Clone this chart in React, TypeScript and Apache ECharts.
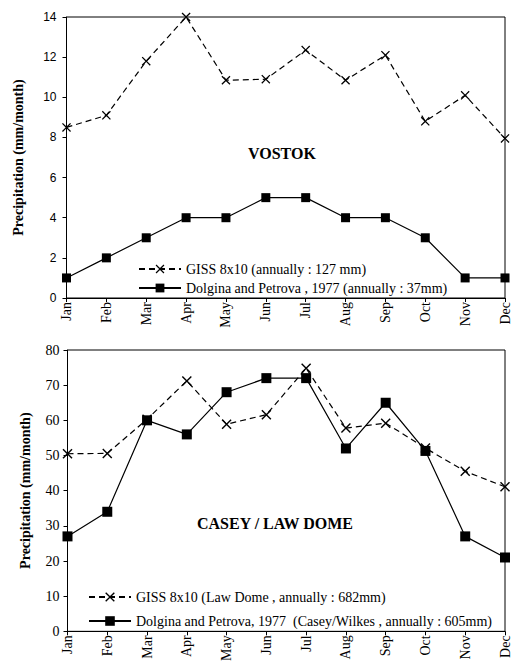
import React, { useEffect, useRef } from "react";
import * as echarts from "echarts";

const months = ["Jan", "Feb", "Mar", "Apr", "May", "Jun", "Jul", "Aug", "Sep", "Oct", "Nov", "Dec"];
const vostokGiss = [8.5, 9.1, 11.8, 14.0, 10.85, 10.9, 12.35, 10.85, 12.1, 8.8, 10.1, 7.95];
const vostokDolgina = [1, 2, 3, 4, 4, 5, 5, 4, 4, 3, 1, 1];
const caseyGiss = [50.5, 50.6, 60.3, 71.2, 58.9, 61.6, 74.8, 57.8, 59.2, 52.1, 45.5, 41.1];
const caseyDolgina = [27, 34, 60, 56, 68, 72, 72, 52, 65, 51.3, 27, 21];

const vostokGissName = "GISS 8x10 (annually : 127 mm)";
const vostokDolginaName = "Dolgina and Petrova , 1977 (annually : 37mm)";
const caseyGissName = "GISS 8x10 (Law Dome , annually : 682mm)";
const caseyDolginaName = "Dolgina and Petrova, 1977  (Casey/Wilkes , annually : 605mm)";

const yName = "Precipitation (mm/month)";
const serif = "Liberation Serif";
const sans = "Liberation Sans";

const crossPath = "path://M0,1L1,0L5,4L9,0L10,1L6,5L10,9L9,10L5,6L1,10L0,9L4,5Z";

export default function App() {
  const ref = useRef<HTMLDivElement>(null);
  useEffect(() => {
    if (!ref.current) return;
    const chart = echarts.init(ref.current, null, { renderer: "svg" });
    const xAxisBase = (gridIndex: number) => ({
      type: "category",
      gridIndex,
      data: months,
      boundaryGap: false,
      axisLine: { lineStyle: { color: "#000", width: 1 } },
      axisTick: { show: true, length: 4, lineStyle: { color: "#000" } },
      axisLabel: { rotate: 90, color: "#000", fontFamily: serif, fontSize: 14, margin: 4 },
      splitLine: { show: false },
    });
    const giss = (name: string, data: number[], idx: number, size: number) => ({
      name,
      type: "line",
      xAxisIndex: idx,
      yAxisIndex: idx,
      data,
      symbol: crossPath,
      symbolSize: size,
      lineStyle: { color: "#000", width: 1.2, type: [6, 4] },
      itemStyle: { color: "#000" },
      z: 3,
    });
    const dolg = (name: string, data: number[], idx: number, size: number) => ({
      name,
      type: "line",
      xAxisIndex: idx,
      yAxisIndex: idx,
      data,
      symbol: "rect",
      symbolSize: size,
      lineStyle: { color: "#000", width: 1.2, type: "solid" },
      itemStyle: { color: "#000" },
      z: 4,
    });
    chart.setOption({
      animation: false,
      backgroundColor: "#fff",
      grid: [
        { left: 66.5, right: 5.5, top: 17, height: 281, show: true, borderColor: "#000", borderWidth: 1 },
        { left: 67.5, right: 2.5, top: 350, height: 282.5, show: true, borderColor: "#000", borderWidth: 1 },
      ],
      xAxis: [xAxisBase(0), xAxisBase(1)],
      yAxis: [
        {
          type: "value",
          gridIndex: 0,
          min: 0,
          max: 14,
          interval: 2,
          name: yName,
          nameLocation: "middle",
          nameGap: 41,
          nameTextStyle: { fontFamily: serif, fontWeight: "bold", fontSize: 14, color: "#000" },
          axisLine: { show: true, lineStyle: { color: "#000" } },
          axisTick: { show: true, length: 4, lineStyle: { color: "#000" } },
          axisLabel: { color: "#000", fontFamily: sans, fontSize: 12, margin: 10 },
          splitLine: { show: false },
        },
        {
          type: "value",
          gridIndex: 1,
          min: 0,
          max: 80,
          interval: 10,
          name: yName,
          nameLocation: "middle",
          nameGap: 35,
          nameTextStyle: { fontFamily: serif, fontWeight: "bold", fontSize: 14, color: "#000" },
          axisLine: { show: true, lineStyle: { color: "#000" } },
          axisTick: { show: true, length: 4, lineStyle: { color: "#000" } },
          axisLabel: { color: "#000", fontFamily: serif, fontSize: 14, margin: 8 },
          splitLine: { show: false },
        },
      ],
      legend: [
        {
          data: [vostokGissName, vostokDolginaName],
          orient: "vertical",
          left: 133,
          top: 257,
          itemWidth: 42,
          itemHeight: 11,
          itemGap: 5,
          textStyle: { fontFamily: serif, fontSize: 14, color: "#000" },
          selectedMode: false,
        },
        {
          data: [caseyGissName, caseyDolginaName],
          orient: "vertical",
          left: 83,
          top: 585,
          itemWidth: 42,
          itemHeight: 12,
          itemGap: 10,
          textStyle: { fontFamily: serif, fontSize: 14, color: "#000" },
          selectedMode: false,
        },
      ],
      graphic: [
        {
          type: "text",
          left: 248,
          top: 145,
          style: { text: "VOSTOK", font: `bold 16px ${serif}`, fill: "#000" },
        },
        {
          type: "text",
          left: 197,
          top: 515,
          style: { text: "CASEY / LAW DOME", font: `bold 16px ${serif}`, fill: "#000" },
        },
      ],
      series: [
        giss(vostokGissName, vostokGiss, 0, 9),
        dolg(vostokDolginaName, vostokDolgina, 0, 9),
        giss(caseyGissName, caseyGiss, 1, 10),
        dolg(caseyDolginaName, caseyDolgina, 1, 10),
      ],
    });
    return () => chart.dispose();
  }, []);
  return (
    <div
      ref={ref}
      style={{ position: "fixed", left: 0, top: 0, width: 512, height: 664, background: "#fff" }}
    />
  );
}
